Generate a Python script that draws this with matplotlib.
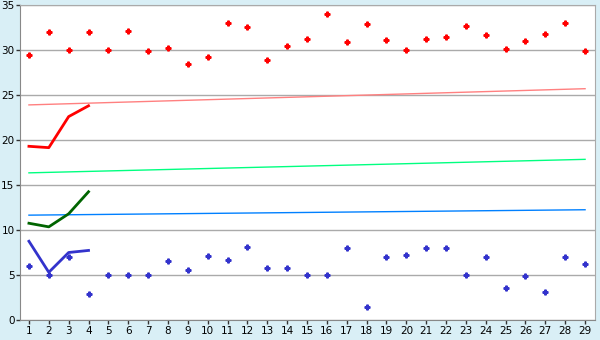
import numpy as np
import matplotlib
matplotlib.use("Agg")
import matplotlib.pyplot as plt

# ---------------------data----------------------------------------------------
days = np.arange(1, 30)
red_pts = [29.45, 32.0, 30.0, 32.0, 30.0, 32.1, 29.85, 30.2, 28.45, 29.2,
           33.0, 32.55, 28.9, 30.45, 31.2, 34.0, 30.9, 32.9, 31.1, 30.0,
           31.2, 31.45, 32.65, 31.65, 30.1, 31.0, 31.75, 33.0, 29.9]
blue_pts = [6.0, 5.0, 7.0, 2.86, 5.0, 5.0, 5.0, 6.55, 5.55, 7.1,
            6.65, 8.1, 5.76, 5.76, 5.0, 5.0, 8.0, 1.41, 7.0, 7.2,
            8.0, 8.0, 5.0, 7.0, 3.53, 4.87, 3.09, 7.0, 6.2]

short_x = [1, 2, 3, 4]
red_line = [19.3, 19.15, 22.6, 23.8]
green_line = [10.75, 10.35, 11.8, 14.25]
blue_line = [8.75, 5.3, 7.5, 7.73]

trend_x = [1, 29]
red_trend = [23.9, 25.7]
green_trend = [16.35, 17.85]
blue_trend = [11.65, 12.25]

# ---------------------figure---------------------------------
bg = '#d9eff6'
fig = plt.figure(figsize=(6, 3.4), dpi=100, facecolor=bg)
ax = fig.add_axes([20/600, 20/340, 575/600, 315/340])
ax.set_facecolor('white')

ax.set_xlim(0.55, 29.5)
ax.set_ylim(0, 35)
ax.set_yticks(range(0, 36, 5))
ax.set_xticks(days)
ax.yaxis.grid(True, color='#aaaaaa', lw=1)
ax.set_axisbelow(True)

ax.plot(trend_x, red_trend, color='#ff8080', lw=1)
ax.plot(trend_x, green_trend, color='#00ff80', lw=1)
ax.plot(trend_x, blue_trend, color='#0080ff', lw=1)

ax.plot(short_x, red_line, color='#ff0000', lw=2)
ax.plot(short_x, green_line, color='#006400', lw=2)
ax.plot(short_x, blue_line, color='#3333cc', lw=2)

ax.plot(days, red_pts, 'P', color='#ff0000', ms=3.5, ls='none')
ax.plot(days, blue_pts, 'P', color='#3333cc', ms=3.5, ls='none')

for s in ['top', 'right']:
    ax.spines[s].set_color('#aaaaaa')
for s in ['left', 'bottom']:
    ax.spines[s].set_color('#888888')
ax.tick_params(labelsize=7.5, length=3, width=1, color='#333333', pad=1)

plt.savefig('out.png', dpi=100, facecolor=bg)
